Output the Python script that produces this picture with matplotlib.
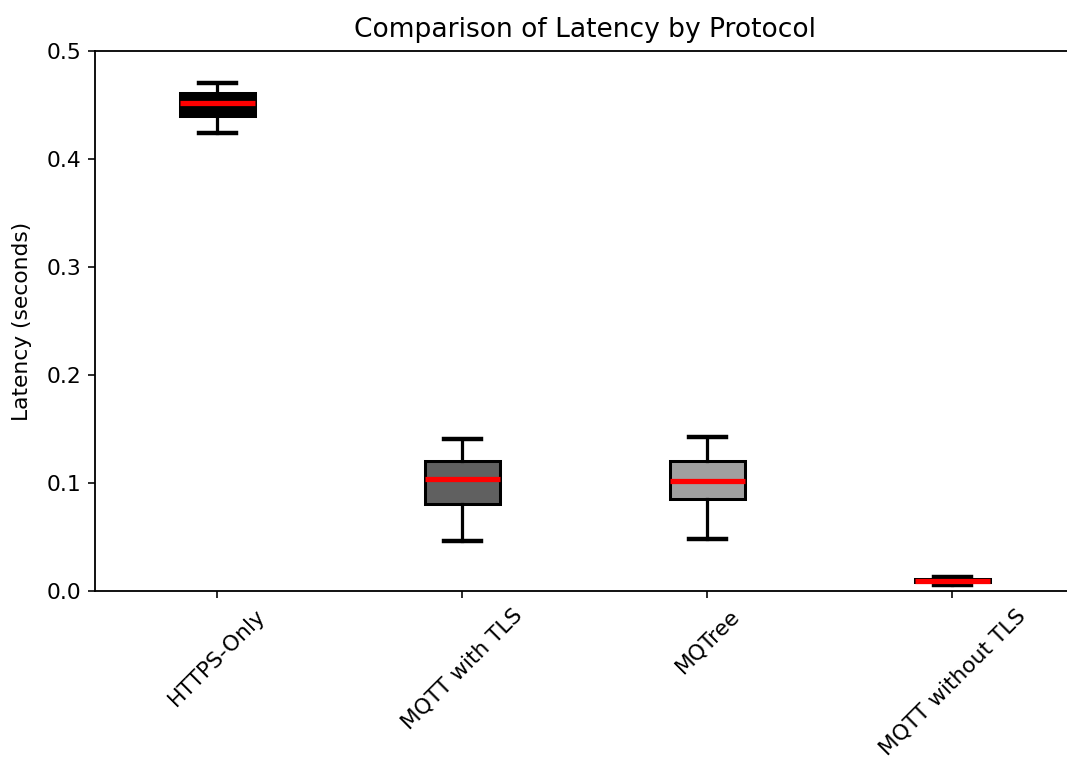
import matplotlib
matplotlib.use("Agg")
import matplotlib.pyplot as plt

# values (seconds)
protocols = ["HTTPS-Only", "MQTT with TLS", "MQTree", "MQTT without TLS"]
whislo = [0.424, 0.0463, 0.0481, 0.0055]
q1 = [0.4398, 0.0806, 0.0852, 0.0080]
med = [0.4515, 0.1037, 0.1019, 0.0095]
q3 = [0.4610, 0.1200, 0.1200, 0.0110]
whishi = [0.4705, 0.1407, 0.1426, 0.0130]
box_colors = ["black", "#606060", "#a0a0a0", "#d3d3d3"]

stats = []
for name, lo, a, m, b, hi in zip(protocols, whislo, q1, med, q3, whishi):
    stats.append({"label": name, "whislo": lo, "q1": a, "med": m,
                  "q3": b, "whishi": hi, "fliers": []})

plt.rcParams["font.size"] = 10.8
plt.rcParams["axes.linewidth"] = 0.9

DPI = 145
fig = plt.figure(figsize=(1067 / DPI, 758 / DPI), dpi=DPI)
# the reference is cropped on the right, so the axes run past the edge
ax = fig.add_axes([95 / 1067, 1 - 591 / 758, 980 / 1067, 540 / 758])

bp = ax.bxp(stats, widths=0.31, patch_artist=True, showfliers=False,
            boxprops=dict(linewidth=1.5, edgecolor="black"),
            whiskerprops=dict(linewidth=1.6, color="black"),
            capprops=dict(linewidth=2.2, color="black"),
            medianprops=dict(linewidth=2.6, color="red"))
for patch, c in zip(bp["boxes"], box_colors):
    patch.set_facecolor(c)

ax.set_xlim(0.5, 4.5)
ax.set_ylim(0, 0.5)
ax.set_yticks([0.0, 0.1, 0.2, 0.3, 0.4, 0.5])
ax.set_title("Comparison of Latency by Protocol", fontsize=13.2, pad=7)
ax.set_ylabel("Latency (seconds)", labelpad=7)
plt.setp(ax.get_xticklabels(), rotation=45)

fig.savefig("out.png", dpi=DPI)
